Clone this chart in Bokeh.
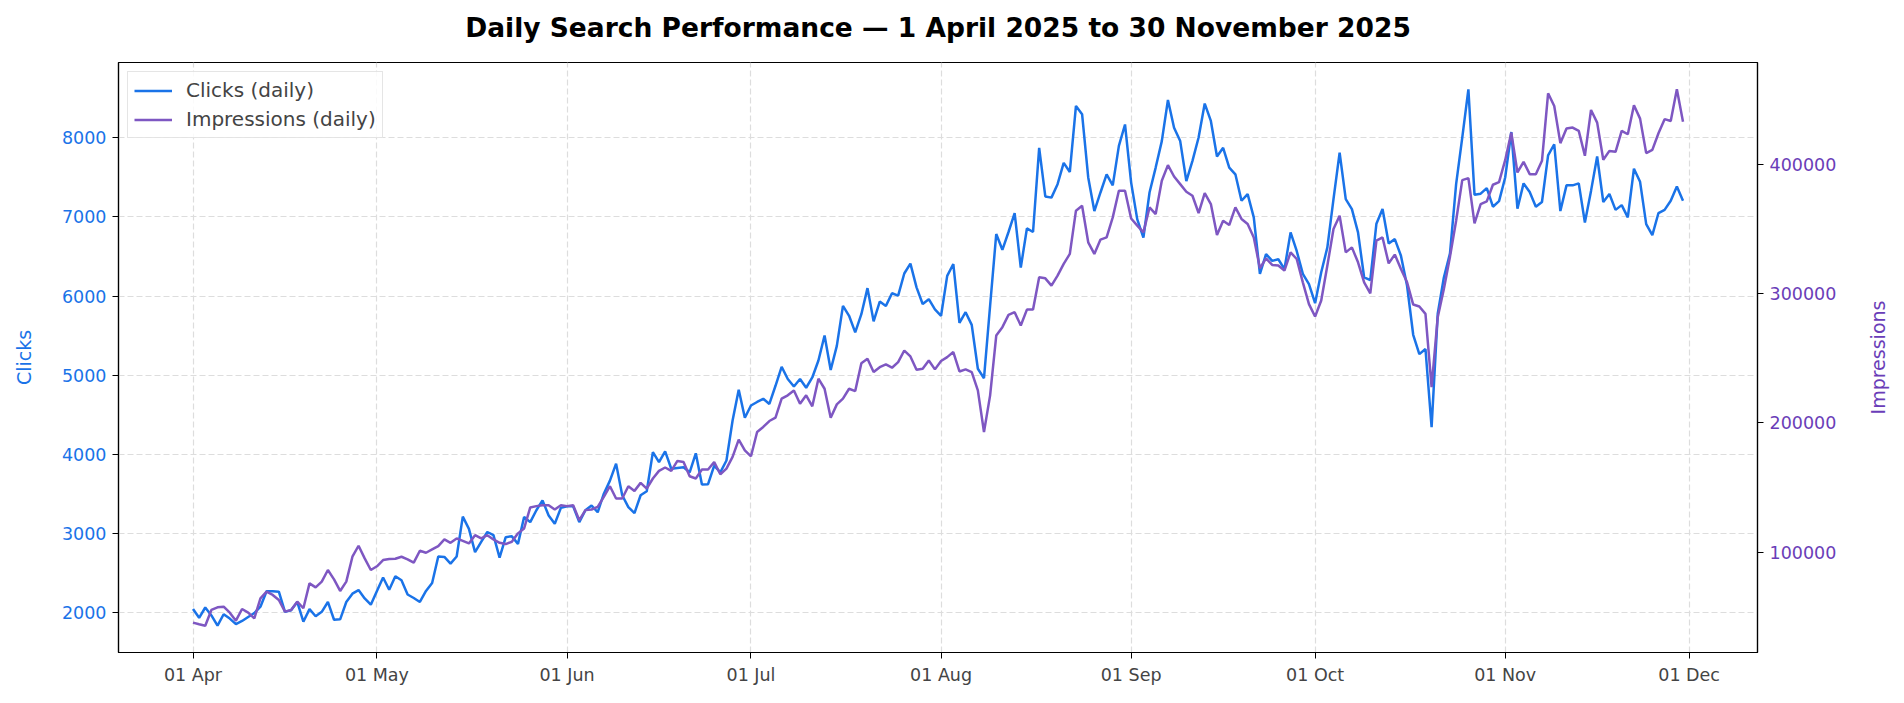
import math
import pandas as pd
from bokeh.plotting import figure
from bokeh.models import (ColumnDataSource, Range1d, LinearAxis, FixedTicker, Label,
                          DatetimeTickFormatter, BasicTickFormatter, Legend, LegendItem)
from bokeh.embed import file_html
from bokeh.resources import INLINE

# Daily data, 1 Apr 2025 .. 30 Nov 2025
dates = pd.date_range("2025-04-01", "2025-11-30", freq="D")

clicks = [
    2040, 1930, 2060, 1960, 1830, 1975, 1920, 1850, 1890, 1940,
    1990, 2070, 2265, 2265, 2260, 2005, 2025, 2130, 1880, 2040,
    1950, 2005, 2130, 1905, 1910, 2130, 2235, 2280, 2175, 2095,
    2270, 2440, 2285, 2455, 2405, 2225, 2180, 2130, 2270, 2370,
    2705, 2700, 2615, 2705, 3210, 3055, 2760, 2890, 3015, 2975,
    2690, 2950, 2960, 2865, 3205, 3140, 3290, 3415, 3225, 3120,
    3320, 3340, 3340, 3140, 3290, 3350, 3265, 3500, 3665, 3880,
    3480, 3330, 3255, 3480, 3530, 4025, 3900, 4035, 3815, 3825,
    3835, 3770, 4010, 3615, 3620, 3855, 3770, 3920, 4425, 4815,
    4460, 4615, 4660, 4700, 4635, 4865, 5105, 4950, 4855, 4950,
    4840, 4970, 5185, 5500, 5065, 5370, 5875, 5750, 5540, 5770,
    6100, 5680, 5930, 5875, 6035, 6005, 6285, 6410, 6110, 5900,
    5960, 5830, 5750, 6255, 6405, 5660, 5795, 5635, 5080, 4960,
    5880, 6785, 6585, 6810, 7050, 6360, 6855, 6810, 7875, 7260,
    7245, 7415, 7685, 7570, 8405, 8300, 7500, 7075, 7310, 7540,
    7400, 7900, 8170, 7435, 6970, 6740, 7310, 7625, 7960, 8480,
    8130, 7960, 7455, 7710, 8005, 8435, 8215, 7765, 7875, 7625,
    7540, 7205, 7290, 6995, 6280, 6530, 6445, 6465, 6340, 6805,
    6570, 6280, 6150, 5910, 6300, 6615, 7225, 7815, 7225, 7100,
    6805, 6235, 6200, 6915, 7100, 6665, 6720, 6510, 6130, 5510,
    5265, 5330, 4340, 5775, 6235, 6540, 7415, 8005, 8615, 7280,
    7295, 7365, 7130, 7200, 7500, 8075, 7105, 7425, 7315, 7130,
    7190, 7780, 7920, 7075, 7400, 7400, 7425, 6930, 7330, 7765,
    7190, 7290, 7090, 7150, 6995, 7610, 7445, 6910, 6770, 7050,
    7090, 7205, 7385, 7205,
]

impressions = [
    45400, 44100, 43000, 55200, 57200, 57700, 53100, 46900, 55900, 53100,
    48700, 64200, 69300, 66800, 62900, 53900, 55200, 61600, 56500, 75800,
    72700, 77100, 86100, 78900, 69900, 77100, 96400, 104900, 95100, 86100,
    89000, 93800, 94600, 94800, 96400, 94400, 91800, 101000, 99500, 102100,
    104600, 109800, 107200, 110600, 108700, 106700, 113100, 110600, 113100, 109800,
    107200, 106200, 108000, 114500, 118300, 134600, 135600, 136300, 136300, 133000,
    136300, 135600, 136300, 124700, 132500, 133000, 135000, 142800, 151000, 141500,
    141500, 151000, 147400, 153600, 149200, 157000, 162900, 165500, 162900, 170600,
    169800, 158700, 157000, 163900, 163900, 169800, 160300, 164700, 173700, 187100,
    178800, 174200, 193000, 196900, 201500, 204100, 218800, 221400, 225200, 214900,
    221400, 212900, 234300, 226500, 204100, 214400, 218800, 226500, 224700, 246300,
    249700, 239400, 243200, 245300, 242800, 247100, 256100, 251500, 241200, 242000,
    248400, 241500, 248000, 251000, 254900, 239900, 241500, 239400, 225200, 193000,
    221400, 267700, 274200, 283700, 285800, 275500, 287800, 287800, 312800, 312000,
    306400, 314100, 323200, 330900, 364400, 368200, 339900, 330900, 342000, 343700,
    359200, 379800, 379800, 358400, 352800, 347600, 366900, 361800, 387600, 399700,
    390900, 385000, 379100, 376000, 362600, 378000, 369500, 345600, 356600, 353300,
    366900, 358000, 354100, 343700, 319800, 327500, 322400, 321900, 318000, 332100,
    327000, 308900, 292000, 282400, 294800, 321900, 350200, 360500, 332100, 336000,
    324400, 308900, 300400, 341200, 343700, 323600, 330400, 319300, 308900, 291700,
    290200, 284500, 227800, 281900, 303800, 328800, 356600, 388100, 389600, 354600,
    369500, 371600, 384500, 386500, 403500, 424900, 394000, 402200, 392700, 392700,
    403000, 455300, 445500, 416700, 428000, 428800, 426200, 406900, 442400, 432600,
    403800, 410700, 410000, 426200, 423600, 446100, 435700, 409000, 411500, 424400,
    435300, 433900, 458400, 433200,
]

month_ticks = pd.date_range("2025-04-01", "2025-12-01", freq="MS")
click_ticks = [2000, 3000, 4000, 5000, 6000, 7000, 8000]
impression_ticks = [100000, 200000, 300000, 400000]

TITLE = "Daily Search Performance \u2014 1 April 2025 to 30 November 2025"
BLUE = "#1a73e8"
PURPLE = "#7e57c2"
PURPLE_TXT = "#6a3db8"
FONT = "DejaVu Sans"


def padded(vals, frac=0.05):
    lo, hi = min(vals), max(vals)
    m = (hi - lo) * frac
    return lo - m, hi + m


source = ColumnDataSource(dict(date=dates, clicks=clicks, impressions=impressions))

xpad = pd.Timedelta(days=(dates[-1] - dates[0]).days * 0.05)
x_lo, x_hi = dates[0] - xpad, dates[-1] + xpad
clk_lo, clk_hi = padded(clicks)
imp_lo, imp_hi = padded(impressions)

W, H = 1896, 695
BL, BR, BT, BB = 118, 139, 62, 43
frame_h = H - BT - BB

p = figure(width=W, height=H,
           x_axis_type="datetime",
           x_range=Range1d(x_lo, x_hi),
           y_range=Range1d(clk_lo, clk_hi),
           output_backend="svg", toolbar_location=None,
           min_border_left=BL, min_border_right=BR,
           min_border_top=BT, min_border_bottom=BB)
p.extra_y_ranges = {"imp": Range1d(imp_lo, imp_hi)}

r_clicks = p.line("date", "clicks", source=source, color=BLUE, line_width=2.5)
r_imp = p.line("date", "impressions", source=source, color=PURPLE, line_width=2.5,
               y_range_name="imp")

# frame + grid
p.outline_line_color = "black"
p.outline_line_alpha = 1
p.outline_line_width = 1.2
for g in (p.xgrid, p.ygrid):
    g.grid_line_color = "#dddddd"
    g.grid_line_dash = "6 3"
    g.grid_line_width = 1.2

# axes
p.xaxis.ticker = FixedTicker(ticks=[t.value // 10**6 for t in month_ticks])
p.xaxis.formatter = DatetimeTickFormatter(days="%d %b", months="%d %b", years="%d %b")
p.yaxis.ticker = FixedTicker(ticks=click_ticks)
p.yaxis.axis_label = "Clicks"

imp_axis = LinearAxis(y_range_name="imp",
                      ticker=FixedTicker(ticks=impression_ticks),
                      formatter=BasicTickFormatter(use_scientific=False))
p.add_layout(imp_axis, "right")

for ax in p.axis:
    ax.axis_line_color = "black"
    ax.axis_line_width = 1.2
    ax.major_tick_line_color = "black"
    ax.major_tick_out = 6
    ax.major_tick_in = 0
    ax.minor_tick_line_color = None
    ax.major_label_standoff = 6
    ax.major_label_text_font = FONT
    ax.major_label_text_font_size = "17.5px"
    ax.axis_label_text_font = FONT
    ax.axis_label_text_font_size = "19px"
    ax.axis_label_text_font_style = "normal"

p.yaxis[0].major_label_text_color = BLUE
p.yaxis[0].axis_label_text_color = BLUE
p.yaxis[0].axis_label_standoff = 24
imp_axis.major_label_text_color = PURPLE_TXT

# chart title: a label in the top panel, 35px above the frame, centred on it
x_mid = (x_lo + (x_hi - x_lo) / 2).value // 10**6
title_y = clk_hi + 35 * (clk_hi - clk_lo) / frame_h
p.add_layout(Label(x=x_mid, y=title_y, text=TITLE,
                   text_align="center", text_baseline="middle",
                   text_font=FONT, text_font_size="26.5px", text_font_style="bold",
                   text_color="black"), "above")

# right-hand axis title, reading bottom to top like the left one;
# kept in the right side panel so it is not clipped to the frame
label_x = x_hi + pd.Timedelta(days=19.7)
p.add_layout(Label(x=label_x.value // 10**6, y=(imp_lo + imp_hi) / 2, y_range_name="imp",
                   text="Impressions", angle=math.pi / 2,
                   text_align="center", text_baseline="middle",
                   text_font=FONT, text_font_size="19px", text_color=PURPLE_TXT), "right")

legend = Legend(items=[LegendItem(label="Clicks (daily)", renderers=[r_clicks]),
                       LegendItem(label="Impressions (daily)", renderers=[r_imp])],
                location="top_left")
legend.label_text_font = FONT
legend.label_text_font_size = "20px"
legend.border_line_color = "#cccccc"
legend.border_line_width = 1
legend.background_fill_alpha = 0.85
legend.margin = 9
legend.padding = 6
legend.spacing = 5
legend.glyph_width = 38
legend.glyph_height = 23
legend.label_height = 23
legend.label_standoff = 14
p.add_layout(legend)

open("out.html", "w").write(file_html(p, INLINE))
